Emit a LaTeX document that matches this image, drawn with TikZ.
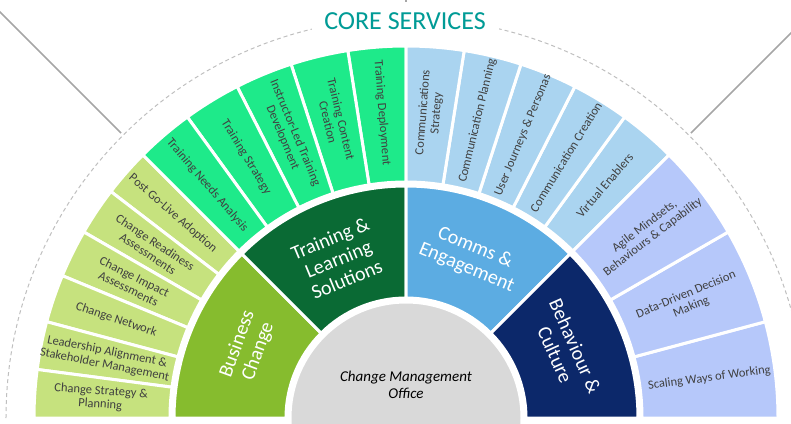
\documentclass[tikz,border=0pt]{standalone}
\usepackage{fontspec}
\setmainfont{Carlito}
\definecolor{bizin}{RGB}{134,188,46}
\definecolor{bizout}{RGB}{198,226,126}
\definecolor{trnin}{RGB}{10,106,52}
\definecolor{trnout}{RGB}{30,234,138}
\definecolor{comin}{RGB}{92,172,226}
\definecolor{comout}{RGB}{170,212,240}
\definecolor{behin}{RGB}{12,40,106}
\definecolor{behout}{RGB}{182,200,250}
\definecolor{cmo}{RGB}{217,217,217}
\definecolor{teal}{RGB}{0,155,150}
\begin{document}
\begin{tikzpicture}[x=1pt,y=1pt,
  gap/.style={draw=white,line width=3pt},
  outertxt/.style={text=black!75,font=\fontsize{12.5}{13.5}\selectfont,align=center,inner sep=1pt},
  innertxt/.style={text=white,font=\fontsize{20}{22}\selectfont,align=center,inner sep=1pt}]
\pgfmathsetmacro{\ra}{116}
\pgfmathsetmacro{\rb}{120}
\pgfmathsetmacro{\rc}{232}
\pgfmathsetmacro{\rd}{236}
\pgfmathsetmacro{\re}{372}
\pgfmathsetmacro{\rt}{173}
\pgfmathsetmacro{\rs}{306}
\useasboundingbox (-406,-5) rectangle (385,418);
\clip (-406,-5) rectangle (385,418);
% outer lines
\draw[gray!50,line width=1pt,dash pattern=on 4pt off 3pt] (180:400) arc (180:0:400);
\draw[gray!70,line width=1.5pt] (135:403) -- (135:620);
\draw[gray!70,line width=1.5pt] (45:403) -- (45:620);
\draw[gray!70,line width=1.5pt] (90:403) -- (90:440);
\node[fill=white,text=teal,minimum width=187,minimum height=38,inner sep=0pt,
  font=\fontsize{26}{26}\selectfont] (title) at (-1,397) {CORE SERVICES};
%
\path[fill=cmo,gap] (0,0) circle (\ra);
\node[font=\fontsize{15}{17}\selectfont\itshape,align=center] (cmo) at (0,33) {Change Management\\Office};
%
\path[fill=bizin,gap] (180:\rb) arc (180:135:\rb) -- (135:\rc) arc (135:180:\rc) -- cycle;
\path[fill=trnin,gap] (135:\rb) arc (135:90:\rb) -- (90:\rc) arc (90:135:\rc) -- cycle;
\path[fill=comin,gap] (90:\rb) arc (90:45:\rb) -- (45:\rc) arc (45:90:\rc) -- cycle;
\path[fill=behin,gap] (45:\rb) arc (45:0:\rb) -- (0:\rc) arc (0:45:\rc) -- cycle;
\node[innertxt,rotate=70] (biz) at (156:\rt) {Business\\Change};
\node[innertxt,rotate=22.5] (trn) at (113:\rt) {Training \&\\Learning\\Solutions};
\node[innertxt,rotate=-22.5] (com) at (68:\rt) {Comms \&\\Engagement};
\node[innertxt,rotate=-66] (beh) at (23:\rt) {Behaviour \&\\Culture};
%
\path[fill=bizout,gap] (135:\rd) arc (135:142.5:\rd) -- (142.5:\re) arc (142.5:135:\re) -- cycle;
\path[fill=bizout,gap] (142.5:\rd) arc (142.5:150:\rd) -- (150:\re) arc (150:142.5:\re) -- cycle;
\path[fill=bizout,gap] (150:\rd) arc (150:157.5:\rd) -- (157.5:\re) arc (157.5:150:\re) -- cycle;
\path[fill=bizout,gap] (157.5:\rd) arc (157.5:165:\rd) -- (165:\re) arc (165:157.5:\re) -- cycle;
\path[fill=bizout,gap] (165:\rd) arc (165:172.5:\rd) -- (172.5:\re) arc (172.5:165:\re) -- cycle;
\path[fill=bizout,gap] (172.5:\rd) arc (172.5:180:\rd) -- (180:\re) arc (180:172.5:\re) -- cycle;
\node[outertxt,rotate=-41.25] (biza) at (138.75:310) {Post Go-Live Adoption};
\node[outertxt,rotate=-33.75] (bizb) at (146.25:\rs) {Change Readiness\\Assessments};
\node[outertxt,rotate=-26.25] (bizc) at (153.75:\rs) {Change Impact\\Assessments};
\node[outertxt,rotate=-18.75] (bizd) at (161.25:\rs) {Change Network};
\node[outertxt,rotate=-11.25] (bize) at (168.75:\rs) {Leadership Alignment \&\\Stakeholder Management};
\node[outertxt,rotate=-3.75] (bizf) at (176.25:\rs) {Change Strategy \&\\Planning};
%
\path[fill=trnout,gap] (90:\rd) arc (90:99:\rd) -- (99:\re) arc (99:90:\re) -- cycle;
\path[fill=trnout,gap] (99:\rd) arc (99:108:\rd) -- (108:\re) arc (108:99:\re) -- cycle;
\path[fill=trnout,gap] (108:\rd) arc (108:117:\rd) -- (117:\re) arc (117:108:\re) -- cycle;
\path[fill=trnout,gap] (117:\rd) arc (117:126:\rd) -- (126:\re) arc (126:117:\re) -- cycle;
\path[fill=trnout,gap] (126:\rd) arc (126:135:\rd) -- (135:\re) arc (135:126:\re) -- cycle;
\node[outertxt,rotate=-49.5] (trna) at (130.5:\rs) {Training Needs Analysis};
\node[outertxt,rotate=-58.5] (trnb) at (121.5:\rs) {Training Strategy};
\node[outertxt,rotate=-67.5] (trnc) at (112.5:\rs) {Instructor-Led Training\\Development};
\node[outertxt,rotate=-76.5] (trnd) at (103.5:\rs) {Training Content\\Creation};
\node[outertxt,rotate=-85.5] (trne) at (94.5:\rs) {Training Deployment};
%
\path[fill=comout,gap] (45:\rd) arc (45:54:\rd) -- (54:\re) arc (54:45:\re) -- cycle;
\path[fill=comout,gap] (54:\rd) arc (54:63:\rd) -- (63:\re) arc (63:54:\re) -- cycle;
\path[fill=comout,gap] (63:\rd) arc (63:72:\rd) -- (72:\re) arc (72:63:\re) -- cycle;
\path[fill=comout,gap] (72:\rd) arc (72:81:\rd) -- (81:\re) arc (81:72:\re) -- cycle;
\path[fill=comout,gap] (81:\rd) arc (81:90:\rd) -- (90:\re) arc (90:81:\re) -- cycle;
\node[outertxt,rotate=85.5] (coma) at (85.5:\rs) {Communications\\Strategy};
\node[outertxt,rotate=76.5] (comb) at (76.5:\rs) {Communication Planning};
\node[outertxt,rotate=67.5] (comc) at (67.5:\rs) {User Journeys \& Personas};
\node[outertxt,rotate=58.5] (comd) at (58.5:\rs) {Communication Creation};
\node[outertxt,rotate=49.5] (come) at (49.5:\rs) {Virtual Enablers};
%
\path[fill=behout,gap] (0:\rd) arc (0:15:\rd) -- (15:\re) arc (15:0:\re) -- cycle;
\path[fill=behout,gap] (15:\rd) arc (15:30:\rd) -- (30:\re) arc (30:15:\re) -- cycle;
\path[fill=behout,gap] (30:\rd) arc (30:45:\rd) -- (45:\re) arc (45:30:\re) -- cycle;
\node[outertxt,rotate=37.5] (beha) at (37.5:\rs) {Agile Mindsets,\\Behaviours \& Capability};
\node[outertxt,rotate=22.5] (behb) at (22.5:\rs) {Data-Driven Decision\\Making};
\node[outertxt,rotate=7.5] (behc) at (7.5:\rs) {Scaling Ways of Working};
\end{tikzpicture}
\end{document}
